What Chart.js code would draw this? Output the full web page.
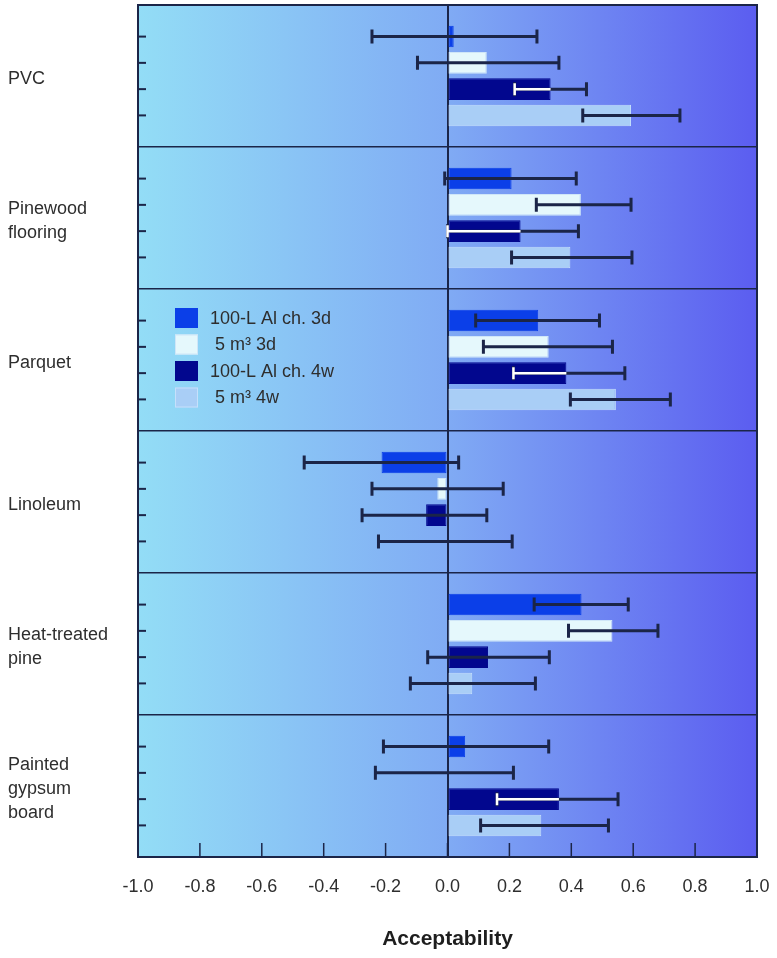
<!DOCTYPE html>
<html>
<head>
<meta charset="utf-8">
<title>Acceptability</title>
<script src="https://cdn.jsdelivr.net/npm/chart.js@4.4.1/dist/chart.umd.min.js"></script>
<style>
  body { margin: 0; background: #fff; }
  #wrap { width: 777px; height: 958px; }
</style>
</head>
<body>
<div id="wrap"><canvas id="chart"></canvas></div>
<script>
// materials (y categories)
const materials = [['PVC'], ['Pinewood', 'flooring'], ['Parquet'], ['Linoleum'], ['Heat-treated', 'pine'], ['Painted', 'gypsum', 'board']];
const seriesNames = ['100-L Al ch. 3d', ' 5 m\u00b3 3d', '100-L Al ch. 4w', ' 5 m\u00b3 4w'];
const xTicks = [-1.0, -0.8, -0.6, -0.4, -0.2, 0.0, 0.2, 0.4, 0.6, 0.8, 1.0];

// mean acceptability + error bar ends
const al3d     = [0.02, 0.207, 0.293, -0.213, 0.433, 0.057];
const al3dLow  = [-0.244, -0.009, 0.091, -0.463, 0.28, -0.207];
const al3dHigh = [0.289, 0.416, 0.491, 0.036, 0.584, 0.327];

const m3d     = [0.127, 0.431, 0.327, -0.033, 0.533, 0];
const m3dLow  = [-0.097, 0.287, 0.116, -0.244, 0.391, -0.233];
const m3dHigh = [0.36, 0.593, 0.533, 0.18, 0.68, 0.213];

const al4w     = [0.333, 0.236, 0.384, -0.069, 0.131, 0.36];
const al4wLow  = [0.217, 0.0, 0.213, -0.276, -0.064, 0.16];
const al4wHigh = [0.449, 0.423, 0.573, 0.127, 0.329, 0.551];

const m4w     = [0.593, 0.397, 0.544, 0, 0.08, 0.303];
const m4wLow  = [0.437, 0.207, 0.397, -0.223, -0.12, 0.107];
const m4wHigh = [0.751, 0.596, 0.72, 0.209, 0.284, 0.52];

const ink = '#1b2548';
const textCol = '#2e2e2e';
const fontFam = '"Liberation Sans", Arial, sans-serif';

const bgPlugin = {
  id: 'bg',
  beforeDraw(chart) {
    const { ctx, chartArea: a } = chart;
    const g = ctx.createLinearGradient(a.left, 0, a.right, 0);
    g.addColorStop(0, '#93ddf6');
    g.addColorStop(0.5, '#80abf4');
    g.addColorStop(1, '#5b5df0');
    ctx.save();
    ctx.fillStyle = g;
    ctx.fillRect(a.left, a.top, a.right - a.left, a.bottom - a.top);
    ctx.restore();
  }
};

const errorBarPlugin = {
  id: 'errbars',
  afterDatasetsDraw(chart) {
    const ctx = chart.ctx;
    const xs = chart.scales.x;
    const a = chart.chartArea;
    const cap = 7;
    ctx.save();
    ctx.lineCap = 'butt';
    chart.data.datasets.forEach((ds, i) => {
      const meta = chart.getDatasetMeta(i);
      meta.data.forEach((bar, j) => {
        const y = bar.y;
        const x1 = xs.getPixelForValue(ds.errLow[j]);
        const x2 = xs.getPixelForValue(ds.errHigh[j]);
        ctx.strokeStyle = ink;
        ctx.lineWidth = 3;
        ctx.beginPath();
        ctx.moveTo(x1, y); ctx.lineTo(x2, y);
        ctx.moveTo(x1, y - cap); ctx.lineTo(x1, y + cap);
        ctx.moveTo(x2, y - cap); ctx.lineTo(x2, y + cap);
        ctx.stroke();
        // part of the bar hidden by a dark bar is drawn white
        if (ds.whiteInside && ds.errLow[j] >= -0.005) {
          ctx.strokeStyle = '#ffffff';
          ctx.lineWidth = 2.5;
          ctx.beginPath();
          ctx.moveTo(x1, y); ctx.lineTo(Math.min(bar.x, x2), y);
          ctx.moveTo(x1, y - cap + 1); ctx.lineTo(x1, y + cap - 1);
          ctx.stroke();
        }
        // small tick on the left edge for every bar
        ctx.strokeStyle = ink;
        ctx.lineWidth = 2;
        ctx.beginPath();
        ctx.moveTo(a.left, y); ctx.lineTo(a.left + 8, y);
        ctx.stroke();
      });
    });
    // inward ticks on the bottom edge
    ctx.lineWidth = 1.5;
    ctx.strokeStyle = ink;
    xTicks.forEach(v => {
      if (v === -1 || v === 1) return;
      const px = xs.getPixelForValue(v);
      ctx.beginPath();
      ctx.moveTo(px, a.bottom); ctx.lineTo(px, a.bottom - 14);
      ctx.stroke();
    });
    ctx.restore();
  },
  afterDraw(chart) {
    const { ctx, chartArea: a } = chart;
    ctx.save();
    ctx.strokeStyle = ink;
    ctx.lineWidth = 2;
    ctx.strokeRect(a.left, a.top, a.right - a.left, a.bottom - a.top);
    // legend inside the Parquet band
    const ys = chart.scales.y;
    const y0 = ys.getPixelForValue(2) - 42;
    ctx.font = '18px ' + fontFam;
    ctx.textBaseline = 'middle';
    ctx.textAlign = 'left';
    chart.data.datasets.forEach((ds, i) => {
      const y = y0 + i * 26.5;
      ctx.fillStyle = ds.backgroundColor;
      ctx.fillRect(a.left + 37, y - 10, 23, 20);
      ctx.strokeStyle = ds.legendBorder;
      ctx.lineWidth = 1;
      ctx.strokeRect(a.left + 37.5, y - 9.5, 22, 19);
      ctx.fillStyle = textCol;
      ctx.fillText(ds.label, a.left + 72, y + 1);
    });
    ctx.restore();
  }
};

function makeSet(label, data, lo, hi, fill, border, legendBorder, whiteInside) {
  return {
    label: label,
    data: data,
    errLow: lo,
    errHigh: hi,
    backgroundColor: fill,
    borderColor: border,
    borderWidth: 1,
    borderSkipped: false,
    legendBorder: legendBorder,
    whiteInside: whiteInside,
    categoryPercentage: 0.74,
    barPercentage: 0.82
  };
}

new Chart(document.getElementById('chart'), {
  type: 'bar',
  data: {
    labels: materials,
    datasets: [
      makeSet(seriesNames[0], al3d, al3dLow, al3dHigh, '#0b3fe8', '#0b3fe8', '#0b3fe8', false),
      makeSet(seriesNames[1], m3d, m3dLow, m3dHigh, '#e5f8fc', '#cfe6f8', '#cfe6f8', false),
      makeSet(seriesNames[2], al4w, al4wLow, al4wHigh, '#02078e', '#02078e', '#02078e', true),
      makeSet(seriesNames[3], m4w, m4wLow, m4wHigh, '#a9cef6', '#c6e0fb', '#c6e0fb', false)
    ]
  },
  options: {
    indexAxis: 'y',
    responsive: true,
    maintainAspectRatio: false,
    animation: false,
    layout: { padding: { left: 8, right: 20, top: 5, bottom: 0 } },
    plugins: {
      legend: { display: false },
      tooltip: { enabled: false }
    },
    scales: {
      x: {
        min: -1,
        max: 1,
        z: 1,
        afterFit: s => { s.height = 101; s.paddingLeft = 0; s.paddingRight = 0; },
        afterBuildTicks: s => { s.ticks = xTicks.map(v => ({ value: v })); },
        border: { display: false },
        grid: {
          drawTicks: false,
          lineWidth: 2,
          color: c => (Math.abs(c.tick.value) < 1e-9 ? ink : 'rgba(0,0,0,0)')
        },
        ticks: {
          padding: 19,
          color: textCol,
          font: { family: fontFam, size: 18 },
          callback: v => Number(v).toFixed(1)
        },
        title: {
          display: true,
          text: 'Acceptability',
          color: '#1e1e1e',
          font: { family: fontFam, size: 21, weight: 'bold' },
          padding: { top: 0, bottom: 6 }
        }
      },
      y: {
        afterFit: s => { s.width = 130; s.paddingTop = 0; s.paddingBottom = 0; },
        border: { display: false },
        grid: {
          offset: true,
          drawTicks: false,
          lineWidth: 1.5,
          color: ink
        },
        ticks: {
          crossAlign: 'far',
          padding: 0,
          labelOffset: 3,
          color: textCol,
          font: { family: fontFam, size: 18, lineHeight: 1.35 }
        }
      }
    }
  },
  plugins: [bgPlugin, errorBarPlugin]
});
</script>
</body>
</html>
